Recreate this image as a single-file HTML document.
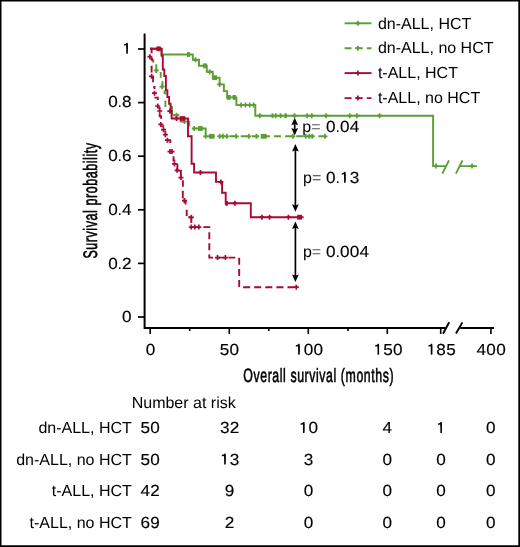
<!DOCTYPE html>
<html><head><meta charset="utf-8"><style>
html,body{margin:0;padding:0;background:#fff;}
body{width:520px;height:547px;overflow:hidden;}
.w{width:520px;height:547px;will-change:transform;}
svg{display:block;}
</style></head><body><div class="w">
<svg width="520" height="547" viewBox="0 0 520 547" font-family='"Liberation Sans", sans-serif' font-size="16" fill="#000" text-rendering="geometricPrecision">
<rect x="0" y="0" width="520" height="547" fill="#fff"/>
<g stroke="#000" fill="none">
<path d="M144.6,33.5 V327.9 H445.8" stroke-width="2"/>
<path d="M460.2,327.9 H494" stroke-width="2"/>
<line x1="138" y1="317" x2="144.6" y2="317" stroke-width="1.7"/>
<line x1="138" y1="263.4" x2="144.6" y2="263.4" stroke-width="1.7"/>
<line x1="138" y1="209.8" x2="144.6" y2="209.8" stroke-width="1.7"/>
<line x1="138" y1="156.2" x2="144.6" y2="156.2" stroke-width="1.7"/>
<line x1="138" y1="102.6" x2="144.6" y2="102.6" stroke-width="1.7"/>
<line x1="138" y1="49" x2="144.6" y2="49" stroke-width="1.7"/>
<line x1="150.2" y1="327.9" x2="150.2" y2="334" stroke-width="1.6"/>
<line x1="229.3" y1="327.9" x2="229.3" y2="334" stroke-width="1.6"/>
<line x1="308.3" y1="327.9" x2="308.3" y2="334" stroke-width="1.6"/>
<line x1="387.3" y1="327.9" x2="387.3" y2="334" stroke-width="1.6"/>
<line x1="440.7" y1="327.9" x2="440.7" y2="334" stroke-width="1.6"/>
<line x1="490.9" y1="327.9" x2="490.9" y2="334" stroke-width="1.6"/>
<line x1="189.7" y1="327.9" x2="189.7" y2="331" stroke-width="1.6"/>
<line x1="268.8" y1="327.9" x2="268.8" y2="331" stroke-width="1.6"/>
<line x1="348" y1="327.9" x2="348" y2="331" stroke-width="1.6"/>
<line x1="443" y1="333.7" x2="449.2" y2="322.2" stroke-width="1.9"/>
<line x1="456" y1="333.5" x2="462.4" y2="322.4" stroke-width="1.9"/>
</g>
<path d="M150.2,48.8 H161.6 V54.5 H192.8 V59.8 H199 V65.8 H206.8 V71.8 H212.8 V77.7 H219.6 V84.4 H223.9 V91.1 H227.1 V97.4 H236.4 V105.1 H255.3 V115.7 H433.1 V166.1 H445.6 V166.1 M459.8,166.1 H476.9" fill="none" stroke="#5b9e34" stroke-width="1.9"/><path d="M187,54.5 H190.1 M187,54.5 h0 M193,59.8 h5 M195.5,57.3 v5 M203,65.8 H207 M203,65.8 h0 M207.2,71.8 h5 M209.7,69.3 v5 M212.2,77.7 H217 M212.2,77.7 h0 M217.1,84.4 h5 M219.6,81.9 v5 M226.8,97.4 H230.7 M226.8,97.4 h0 M232.6,97.4 H236.1 M232.6,97.4 h0 M238.6,105.1 h5 M241.1,102.6 v5 M243,105.1 h5 M245.5,102.6 v5 M247.2,105.1 h5 M249.7,102.6 v5 M251.1,105.1 h5 M253.6,102.6 v5 M257.3,115.7 h5 M259.8,113.2 v5 M270,115.7 h5 M272.5,113.2 v5 M273.2,115.7 h5 M275.7,113.2 v5 M278.1,115.7 h5 M280.6,113.2 v5 M284.4,115.7 H286.9 M284.4,115.7 h0 M292.1,115.7 h5 M294.6,113.2 v5 M304.7,115.7 h5 M307.2,113.2 v5 M309.3,115.7 h5 M311.8,113.2 v5 M323.6,115.7 h5 M326.1,113.2 v5 M347.3,115.7 h5 M349.8,113.2 v5 M354.4,115.7 h5 M356.9,113.2 v5 M377.1,115.7 h5 M379.6,113.2 v5 M433.5,166.1 h5 M436,163.6 v5 M469.5,166.1 h5 M472,163.6 v5" stroke="#5b9e34" stroke-width="1.7" fill="none"/><rect x="187" y="52.1" width="3.1" height="4.8" fill="#5b9e34"/><rect x="203" y="63.4" width="4" height="4.8" fill="#5b9e34"/><rect x="212.2" y="75.3" width="4.8" height="4.8" fill="#5b9e34"/><rect x="226.8" y="95" width="3.9" height="4.8" fill="#5b9e34"/><rect x="232.6" y="95" width="3.5" height="4.8" fill="#5b9e34"/><rect x="284.4" y="113.3" width="2.5" height="4.8" fill="#5b9e34"/>
<path d="M150.2,48.8 H151.6 M153.3,59.6 V62.8 M156.3,64.3 V72.5 M160.7,71.9 V77.8 M162.5,81.2 V88.2 M163.6,91.4 H164.6 V93 H165.5 V94.6 M165.4,100.4 V107 M172,106 V115.2 M172.8,115.2 H179.3 M179.7,121.6 H185.5 M189.3,120.9 V126.6 M192.3,128.5 H205.7 V136.3" fill="none" stroke="#5b9e34" stroke-width="1.9"/><path d="M205.7,136.3 H327" fill="none" stroke="#5b9e34" stroke-width="1.9" stroke-dasharray="7 4.1" stroke-dashoffset="9.4"/><path d="M153.8,70.4 h5 M156.3,67.9 v5 M159.5,86.7 h5 M162,84.2 v5 M174,115.2 h5 M176.5,112.7 v5 M182,121.6 h5 M184.5,119.1 v5 M191.7,128.5 h5 M194.2,126 v5 M198,128.5 H202.8 M198,128.5 h0 M203.2,136.3 h5 M205.7,133.8 v5 M209,136.3 H214.4 M209,136.3 h0 M217.2,136.3 h5 M219.7,133.8 v5 M220.5,136.3 h5 M223,133.8 v5 M224.4,136.3 h5 M226.9,133.8 v5 M233.8,136.3 h5 M236.3,133.8 v5 M246.3,136.3 h5 M248.8,133.8 v5 M254,136.3 h5 M256.5,133.8 v5 M260.8,136.3 H266.6 M260.8,136.3 h0 M290.4,136.3 h5 M292.9,133.8 v5 M303.3,136.3 h5 M305.8,133.8 v5 M306.7,136.3 h5 M309.2,133.8 v5 M309.7,136.3 h5 M312.2,133.8 v5 M322.5,136.3 h5 M325,133.8 v5" stroke="#5b9e34" stroke-width="1.7" fill="none"/><rect x="198" y="126.1" width="4.8" height="4.8" fill="#5b9e34"/><rect x="209" y="133.9" width="5.4" height="4.8" fill="#5b9e34"/><rect x="260.8" y="133.9" width="5.8" height="4.8" fill="#5b9e34"/>
<path d="M150.2,48.8 H151.6 V53.3 M151.4,57.6 V59.2 H152.3 V61.3 M151.6,65.8 V72.6 M151.9,77.6 H153.1 V82.3 M153.1,86.9 H154.5 V88.9 M154.4,97.6 H157.8 V99.9 M158.2,107.9 H159.6 V109 M159.7,113.4 V116.2 H161.1 V118.7 M161.6,126.1 H163.2 V127.4 M164.4,131.6 H165.3 V132.4 M167.4,140.2 H170.3 V142.9 M173.5,156.3 V160.5 H175.3 M177.4,163.6 V170.3 M177.1,170.6 H180.9 V177.3 M182.9,180.2 V186.7 M182.8,190.8 V198.3 M182.8,200.6 H185.6 V204.6 M186.7,209.8 V216.1 M188.3,217.3 H191.3 V223.1" fill="none" stroke="#a80a35" stroke-width="1.9"/><path d="M191.3,227.1 H209.3 V257.6 H239.2 V287.2 H298" fill="none" stroke="#a80a35" stroke-width="1.9" stroke-dasharray="7 4.1" stroke-dashoffset="10.2"/><path d="M147.4,56.7 h5 M149.9,54.2 v5 M149.1,76.3 h5 M151.6,73.8 v5 M152,93.2 h5 M154.5,90.7 v5 M155.2,106 h5 M157.7,103.5 v5 M157.2,111 h5 M159.7,108.5 v5 M158.3,124.4 h5 M160.8,121.9 v5 M161,129.7 h5 M163.5,127.2 v5 M162.9,134.7 h5 M165.4,132.2 v5 M164.9,140.2 h5 M167.4,137.7 v5 M167.5,151.6 h5 M170,149.1 v5 M169.5,151.6 h5 M172,149.1 v5 M172,163.9 h5 M174.5,161.4 v5 M174.6,170.3 h5 M177.1,167.8 v5 M178.4,177.6 h5 M180.9,175.1 v5 M181.9,200.6 h5 M184.4,198.1 v5 M188.8,217.3 h5 M191.3,214.8 v5 M188.8,227.1 h5 M191.3,224.6 v5 M192.3,227.1 h5 M194.8,224.6 v5 M196.3,227.1 h5 M198.8,224.6 v5 M215,257.6 h5 M217.5,255.1 v5 M222.9,257.6 h5 M225.4,255.1 v5 M293.8,287.2 h5 M296.3,284.7 v5" stroke="#a80a35" stroke-width="1.7" fill="none"/>
<path d="M150.2,48.8 H161.6 V55.7 H162.8 V69.5 H164.3 V76 H165.9 V90.3 H167.4 V97 H169.1 V103.7 H170.6 V111.2 H171.6 V118.5 H188 V136.2 H191.6 V163.8 H194.1 V172.5 H216 V181.9 H222.1 V192.7 H225.7 V203.3 H250.8 V217.2 H303.6 V217.2" fill="none" stroke="#a80a35" stroke-width="1.9"/><path d="M156.4,48.8 H160.8 M156.4,48.8 h0 M167.4,111.2 h5 M169.9,108.7 v5 M174,118.5 h5 M176.5,116 v5 M179.7,118.5 H185.2 M179.7,118.5 h0 M197.9,172.5 h5 M200.4,170 v5 M218.4,181.9 h5 M220.9,179.4 v5 M225.2,203.3 H227.8 M225.2,203.3 h0 M232.4,203.3 h5 M234.9,200.8 v5 M259.4,217.2 h5 M261.9,214.7 v5 M267.1,217.2 h5 M269.6,214.7 v5 M285.9,217.2 h5 M288.4,214.7 v5 M297.2,217.2 H302 M297.2,217.2 h0" stroke="#a80a35" stroke-width="1.7" fill="none"/><rect x="156.4" y="46.4" width="4.4" height="4.8" fill="#a80a35"/><rect x="179.7" y="116.1" width="5.5" height="4.8" fill="#a80a35"/><rect x="225.2" y="200.9" width="2.6" height="4.8" fill="#a80a35"/><rect x="297.2" y="214.8" width="4.8" height="4.8" fill="#a80a35"/>
<g stroke="#5b9e34" stroke-width="1.9"><line x1="442.3" y1="173.6" x2="449" y2="160.4"/><line x1="455.9" y1="173.6" x2="462.5" y2="160.4"/></g>
<line x1="294.7" y1="122.8" x2="294.7" y2="130.6" stroke="#000" stroke-width="1.7"/><path d="M294.7,117.8 L298.1,125.3 L294.7,124.1 L291.3,125.3 Z" fill="#000"/><path d="M294.7,135.6 L298.1,128.1 L294.7,129.3 L291.3,128.1 Z" fill="#000"/>
<line x1="295.4" y1="149" x2="295.4" y2="206.7" stroke="#000" stroke-width="1.7"/><path d="M295.4,144 L298.8,151.5 L295.4,150.3 L292,151.5 Z" fill="#000"/><path d="M295.4,211.7 L298.8,204.2 L295.4,205.4 L292,204.2 Z" fill="#000"/>
<line x1="295.4" y1="226.4" x2="295.4" y2="277" stroke="#000" stroke-width="1.7"/><path d="M295.4,221.4 L298.8,228.9 L295.4,227.7 L292,228.9 Z" fill="#000"/><path d="M295.4,282 L298.8,274.5 L295.4,275.7 L292,274.5 Z" fill="#000"/>
<text x="302.3" y="132.3">p<tspan fill="#555">=</tspan></text><text transform="translate(330.73,132.3) scale(1.07,1)" x="-4.45" fill="#000" stroke="#000" stroke-width="0.15">0</text><text x="335.45" y="132.3" fill="#000">.</text><text transform="translate(344.63,132.3) scale(1.07,1)" x="-4.45" fill="#000" stroke="#000" stroke-width="0.15">0</text><text transform="translate(354.43,132.3) scale(1.07,1)" x="-4.45" fill="#000" stroke="#000" stroke-width="0.15">4</text>
<text x="303" y="182.8">p<tspan fill="#333">=</tspan></text><text transform="translate(330.73,182.8) scale(1.07,1)" x="-4.45" fill="#000" stroke="#000" stroke-width="0.15">0</text><text x="335.45" y="182.8" fill="#000">.</text><path d="M345.58,182.8 V171.8 H344.63 Q343.93,173.2 341.73,173.4 V174.6 Q343.23,174.6 344.08,174.1 Z" fill="#000"/><rect x="344.08" y="173.3" width="1.5" height="9.5" fill="#000"/><text transform="translate(354.43,182.8) scale(1.07,1)" x="-4.45" fill="#000" stroke="#000" stroke-width="0.15">3</text>
<text x="302.9" y="256.7">p<tspan fill="#555">=</tspan></text><text transform="translate(330.73,256.7) scale(1.07,1)" x="-4.45" fill="#000" stroke="#000" stroke-width="0.15">0</text><text x="335.45" y="256.7" fill="#000">.</text><text transform="translate(344.63,256.7) scale(1.07,1)" x="-4.45" fill="#000" stroke="#000" stroke-width="0.15">0</text><text transform="translate(354.43,256.7) scale(1.07,1)" x="-4.45" fill="#000" stroke="#000" stroke-width="0.15">0</text><text transform="translate(364.23,256.7) scale(1.07,1)" x="-4.45" fill="#000" stroke="#000" stroke-width="0.15">4</text>
<text transform="translate(126.8,322.2) scale(1.07,1)" x="-4.45" fill="#000" stroke="#000" stroke-width="0.15">0</text>
<text transform="translate(112.9,268.5) scale(1.07,1)" x="-4.45" fill="#000" stroke="#000" stroke-width="0.15">0</text><text x="117.62" y="268.5" fill="#000">.</text><text transform="translate(126.8,268.5) scale(1.07,1)" x="-4.45" fill="#000" stroke="#000" stroke-width="0.15">2</text>
<text transform="translate(112.9,214.8) scale(1.07,1)" x="-4.45" fill="#000" stroke="#000" stroke-width="0.15">0</text><text x="117.62" y="214.8" fill="#000">.</text><text transform="translate(126.8,214.8) scale(1.07,1)" x="-4.45" fill="#000" stroke="#000" stroke-width="0.15">4</text>
<text transform="translate(112.9,161.1) scale(1.07,1)" x="-4.45" fill="#000" stroke="#000" stroke-width="0.15">0</text><text x="117.62" y="161.1" fill="#000">.</text><text transform="translate(126.8,161.1) scale(1.07,1)" x="-4.45" fill="#000" stroke="#000" stroke-width="0.15">6</text>
<text transform="translate(112.9,107.4) scale(1.07,1)" x="-4.45" fill="#000" stroke="#000" stroke-width="0.15">0</text><text x="117.62" y="107.4" fill="#000">.</text><text transform="translate(126.8,107.4) scale(1.07,1)" x="-4.45" fill="#000" stroke="#000" stroke-width="0.15">8</text>
<path d="M127.75,53.8 V42.8 H126.8 Q126.1,44.2 123.9,44.4 V45.6 Q125.4,45.6 126.25,45.1 Z" fill="#000"/><rect x="126.25" y="44.3" width="1.5" height="9.5" fill="#000"/>
<text transform="translate(150.45,354.7) scale(1.07,1)" x="-4.45" fill="#000" stroke="#000" stroke-width="0.15">0</text>
<text transform="translate(224.5,354.7) scale(1.07,1)" x="-4.45" fill="#000" stroke="#000" stroke-width="0.15">5</text><text transform="translate(234.3,354.7) scale(1.07,1)" x="-4.45" fill="#000" stroke="#000" stroke-width="0.15">0</text>
<path d="M299.65,354.7 V343.7 H298.7 Q298,345.1 295.8,345.3 V346.5 Q297.3,346.5 298.15,346 Z" fill="#000"/><rect x="298.15" y="345.2" width="1.5" height="9.5" fill="#000"/><text transform="translate(308.5,354.7) scale(1.07,1)" x="-4.45" fill="#000" stroke="#000" stroke-width="0.15">0</text><text transform="translate(318.3,354.7) scale(1.07,1)" x="-4.45" fill="#000" stroke="#000" stroke-width="0.15">0</text>
<path d="M379.05,354.7 V343.7 H378.1 Q377.4,345.1 375.2,345.3 V346.5 Q376.7,346.5 377.55,346 Z" fill="#000"/><rect x="377.55" y="345.2" width="1.5" height="9.5" fill="#000"/><text transform="translate(387.9,354.7) scale(1.07,1)" x="-4.45" fill="#000" stroke="#000" stroke-width="0.15">5</text><text transform="translate(397.7,354.7) scale(1.07,1)" x="-4.45" fill="#000" stroke="#000" stroke-width="0.15">0</text>
<path d="M432.25,354.7 V343.7 H431.3 Q430.6,345.1 428.4,345.3 V346.5 Q429.9,346.5 430.75,346 Z" fill="#000"/><rect x="430.75" y="345.2" width="1.5" height="9.5" fill="#000"/><text transform="translate(441.1,354.7) scale(1.07,1)" x="-4.45" fill="#000" stroke="#000" stroke-width="0.15">8</text><text transform="translate(450.9,354.7) scale(1.07,1)" x="-4.45" fill="#000" stroke="#000" stroke-width="0.15">5</text>
<text transform="translate(481.3,354.7) scale(1.07,1)" x="-4.45" fill="#000" stroke="#000" stroke-width="0.15">4</text><text transform="translate(491.1,354.7) scale(1.07,1)" x="-4.45" fill="#000" stroke="#000" stroke-width="0.15">0</text><text transform="translate(500.9,354.7) scale(1.07,1)" x="-4.45" fill="#000" stroke="#000" stroke-width="0.15">0</text>
<text transform="translate(243.3,382.2) scale(0.64,1)" font-size="19.3" letter-spacing="0.9" stroke="#000" stroke-width="0.6">Overall survival (months)</text>
<text transform="translate(96.6,258.6) rotate(-90) scale(0.64,1)" font-size="19.5" letter-spacing="0.9" stroke="#000" stroke-width="0.6">Survival probability</text>
<line x1="344.6" y1="23.3" x2="371.5" y2="23.3" stroke="#5b9e34" stroke-width="1.9"/>
<path d="M355.4,23.3 h5 M357.9,20.8 v5" stroke="#5b9e34" stroke-width="1.7" fill="none"/>
<text x="377.9" y="28.7" text-anchor="start">dn-ALL, HCT</text>
<path d="M344.6,48.2 H351.5 M355.6,48.2 H362.7 M366.8,48.2 H371.5" stroke="#5b9e34" stroke-width="1.9"/>
<path d="M355.4,48.2 h5 M357.9,45.7 v5" stroke="#5b9e34" stroke-width="1.7" fill="none"/>
<text x="377.9" y="53.3" text-anchor="start">dn-ALL, no HCT</text>
<line x1="344.6" y1="73.1" x2="371.5" y2="73.1" stroke="#a80a35" stroke-width="1.9"/>
<path d="M355.4,73.1 h5 M357.9,70.6 v5" stroke="#a80a35" stroke-width="1.7" fill="none"/>
<text x="377.9" y="78" text-anchor="start">t-ALL, HCT</text>
<path d="M344.6,98.1 H351.5 M355.6,98.1 H362.7 M366.8,98.1 H371.5" stroke="#a80a35" stroke-width="1.9"/>
<path d="M355.4,98.1 h5 M357.9,95.6 v5" stroke="#a80a35" stroke-width="1.7" fill="none"/>
<text x="377.9" y="102.6" text-anchor="start">t-ALL, no HCT</text>
<text x="131.7" y="408.3" text-anchor="start">Number at risk</text>
<text x="131.8" y="433" text-anchor="end">dn-ALL, HCT</text>
<text transform="translate(145.2,433) scale(1.07,1)" x="-4.45" fill="#000" stroke="#000" stroke-width="0.15">5</text><text transform="translate(155,433) scale(1.07,1)" x="-4.45" fill="#000" stroke="#000" stroke-width="0.15">0</text>
<text transform="translate(224.7,433) scale(1.07,1)" x="-4.45" fill="#000" stroke="#000" stroke-width="0.15">3</text><text transform="translate(234.5,433) scale(1.07,1)" x="-4.45" fill="#000" stroke="#000" stroke-width="0.15">2</text>
<path d="M304.45,433 V422 H303.5 Q302.8,423.4 300.6,423.6 V424.8 Q302.1,424.8 302.95,424.3 Z" fill="#000"/><rect x="302.95" y="423.5" width="1.5" height="9.5" fill="#000"/><text transform="translate(313.3,433) scale(1.07,1)" x="-4.45" fill="#000" stroke="#000" stroke-width="0.15">0</text>
<text transform="translate(387.3,433) scale(1.07,1)" x="-4.45" fill="#000" stroke="#000" stroke-width="0.15">4</text>
<path d="M441.85,433 V422 H440.9 Q440.2,423.4 438,423.6 V424.8 Q439.5,424.8 440.35,424.3 Z" fill="#000"/><rect x="440.35" y="423.5" width="1.5" height="9.5" fill="#000"/>
<text transform="translate(490.7,433) scale(1.07,1)" x="-4.45" fill="#000" stroke="#000" stroke-width="0.15">0</text>
<text x="131.8" y="464.5" text-anchor="end">dn-ALL, no HCT</text>
<text transform="translate(145.2,464.5) scale(1.07,1)" x="-4.45" fill="#000" stroke="#000" stroke-width="0.15">5</text><text transform="translate(155,464.5) scale(1.07,1)" x="-4.45" fill="#000" stroke="#000" stroke-width="0.15">0</text>
<path d="M225.65,464.5 V453.5 H224.7 Q224,454.9 221.8,455.1 V456.3 Q223.3,456.3 224.15,455.8 Z" fill="#000"/><rect x="224.15" y="455" width="1.5" height="9.5" fill="#000"/><text transform="translate(234.5,464.5) scale(1.07,1)" x="-4.45" fill="#000" stroke="#000" stroke-width="0.15">3</text>
<text transform="translate(308.4,464.5) scale(1.07,1)" x="-4.45" fill="#000" stroke="#000" stroke-width="0.15">3</text>
<text transform="translate(387.3,464.5) scale(1.07,1)" x="-4.45" fill="#000" stroke="#000" stroke-width="0.15">0</text>
<text transform="translate(440.9,464.5) scale(1.07,1)" x="-4.45" fill="#000" stroke="#000" stroke-width="0.15">0</text>
<text transform="translate(490.7,464.5) scale(1.07,1)" x="-4.45" fill="#000" stroke="#000" stroke-width="0.15">0</text>
<text x="131.8" y="496.2" text-anchor="end">t-ALL, HCT</text>
<text transform="translate(145.2,496.2) scale(1.07,1)" x="-4.45" fill="#000" stroke="#000" stroke-width="0.15">4</text><text transform="translate(155,496.2) scale(1.07,1)" x="-4.45" fill="#000" stroke="#000" stroke-width="0.15">2</text>
<text transform="translate(229.6,496.2) scale(1.07,1)" x="-4.45" fill="#000" stroke="#000" stroke-width="0.15">9</text>
<text transform="translate(308.4,496.2) scale(1.07,1)" x="-4.45" fill="#000" stroke="#000" stroke-width="0.15">0</text>
<text transform="translate(387.3,496.2) scale(1.07,1)" x="-4.45" fill="#000" stroke="#000" stroke-width="0.15">0</text>
<text transform="translate(440.9,496.2) scale(1.07,1)" x="-4.45" fill="#000" stroke="#000" stroke-width="0.15">0</text>
<text transform="translate(490.7,496.2) scale(1.07,1)" x="-4.45" fill="#000" stroke="#000" stroke-width="0.15">0</text>
<text x="131.8" y="528" text-anchor="end">t-ALL, no HCT</text>
<text transform="translate(145.2,528) scale(1.07,1)" x="-4.45" fill="#000" stroke="#000" stroke-width="0.15">6</text><text transform="translate(155,528) scale(1.07,1)" x="-4.45" fill="#000" stroke="#000" stroke-width="0.15">9</text>
<text transform="translate(229.6,528) scale(1.07,1)" x="-4.45" fill="#000" stroke="#000" stroke-width="0.15">2</text>
<text transform="translate(308.4,528) scale(1.07,1)" x="-4.45" fill="#000" stroke="#000" stroke-width="0.15">0</text>
<text transform="translate(387.3,528) scale(1.07,1)" x="-4.45" fill="#000" stroke="#000" stroke-width="0.15">0</text>
<text transform="translate(440.9,528) scale(1.07,1)" x="-4.45" fill="#000" stroke="#000" stroke-width="0.15">0</text>
<text transform="translate(490.7,528) scale(1.07,1)" x="-4.45" fill="#000" stroke="#000" stroke-width="0.15">0</text>
<path d="M0,0 H520 V547 H0 Z M1.5,1.5 V545.3 H518.3 V1.5 Z" fill="#000" fill-rule="evenodd"/>
</svg>
</div></body></html>
